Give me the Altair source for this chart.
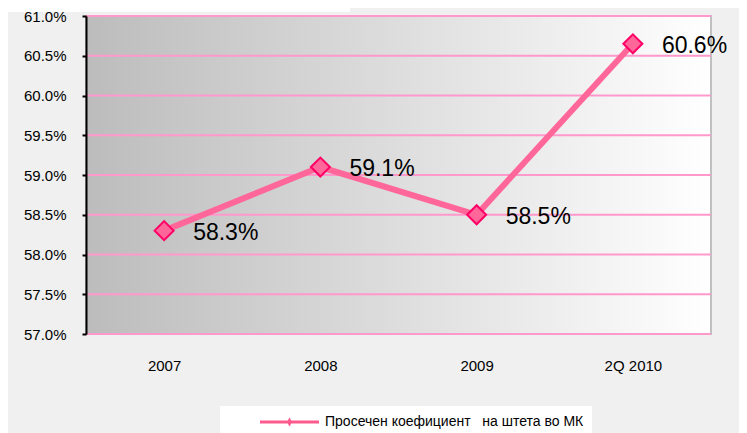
import altair as alt
import pandas as pd

# ---- data ----
periods = ["2007", "2008", "2009", "2Q 2010"]
values = [58.3, 59.1, 58.5, 60.65]
labels = ["58.3%", "59.1%", "58.5%", "60.6%"]
y_ticks = [57.0, 57.5, 58.0, 58.5, 59.0, 59.5, 60.0, 60.5, 61.0]
series_name = "Просечен коефициент\u00a0\u00a0 на штета во МК" + "\u00a0" * 6

W, H = 625, 318
FONT = "Liberation Sans"

df = pd.DataFrame({"period": periods, "value": values, "label": labels,
                   "series": [series_name] * len(periods)})
grid_df = pd.DataFrame({"value": y_ticks})
bg_df = pd.DataFrame({"k": [0]})

x_enc = alt.X("period:N", sort=periods,
              scale=alt.Scale(type="point", padding=0.5),
              axis=alt.Axis(title=None, domain=False, ticks=False, labelAngle=0,
                            labelPadding=24, labelFontSize=15, labelFont=FONT,
                            labelColor="black", grid=False))

y_axis = alt.Axis(title=None, values=y_ticks, grid=False, zindex=1,
                  labelExpr="format(datum.value, '.1f') + '%'",
                  domainColor="black", domainWidth=2, tickColor="black",
                  tickSize=4, tickWidth=2, labelPadding=16, labelFontSize=15,
                  labelFont=FONT, labelColor="black")
y_scale = alt.Scale(domain=[57, 61], nice=False, zero=False)

# white strip at the very top-left of the page
strip = alt.Chart(bg_df).mark_rect(fill="white").encode(
    x=alt.value(-78), x2=alt.value(264), y=alt.value(-8), y2=alt.value(-4)
)

bg = alt.Chart(bg_df).mark_rect(
    fill=alt.LinearGradient(gradient="linear", x1=0, x2=1, y1=0, y2=0,
                            stops=[alt.GradientStop(color="#bcbcbc", offset=0),
                                   alt.GradientStop(color="#ffffff", offset=1)]),
    stroke="#c0c0c0", strokeWidth=2
).encode(x=alt.value(0), x2=alt.value(W), y=alt.value(0), y2=alt.value(H))

grid = alt.Chart(grid_df).mark_rule(color="#ff99cc", strokeWidth=2).encode(
    y=alt.Y("value:Q", scale=y_scale, axis=y_axis)
)

legend_path = ("M-1,-0.05L1,-0.05L1,0.05L-1,0.05Z "
               "M0,-0.15L0.09,0L0,0.15L-0.09,0Z")

line = alt.Chart(df).mark_line(strokeWidth=6).encode(
    x=x_enc,
    y=alt.Y("value:Q", scale=y_scale, axis=y_axis),
    color=alt.Color("series:N",
                    scale=alt.Scale(domain=[series_name], range=["#ff6699"]),
                    legend=alt.Legend(orient="none", legendX=134, legendY=390,
                                      title=None, fillColor="white", padding=8,
                                      symbolType=legend_path, symbolSize=3481,
                                      symbolFillColor="#ff5a90",
                                      symbolStrokeColor="#ff5a90",
                                      symbolStrokeWidth=0, symbolOpacity=1,
                                      symbolOffset=32, labelOffset=6,
                                      labelFontSize=14, labelFont=FONT,
                                      labelColor="black", labelLimit=500,
                                      clipHeight=16))
)

points = alt.Chart(df).mark_point(shape="diamond", filled=True, size=361,
                                  fill="#ff6699", stroke="#ff0066",
                                  strokeWidth=2, opacity=1).encode(
    x=x_enc,
    y=alt.Y("value:Q", scale=y_scale, axis=y_axis)
)

text = alt.Chart(df).mark_text(align="left", baseline="middle", dx=29, dy=2,
                               fontSize=23, font=FONT, color="black").encode(
    x=x_enc,
    y=alt.Y("value:Q", scale=y_scale, axis=y_axis),
    text="label:N"
)

chart = alt.layer(strip, bg, grid, line, points, text).properties(
    width=W, height=H,
    autosize=alt.AutoSizeParams(type="none"),
    padding={"left": 78, "top": 8, "right": 28, "bottom": 99},
    background="#f0f0f0"
).configure_view(stroke=None)

chart.save("out.html", embed_options={"renderer": "svg", "actions": False})
